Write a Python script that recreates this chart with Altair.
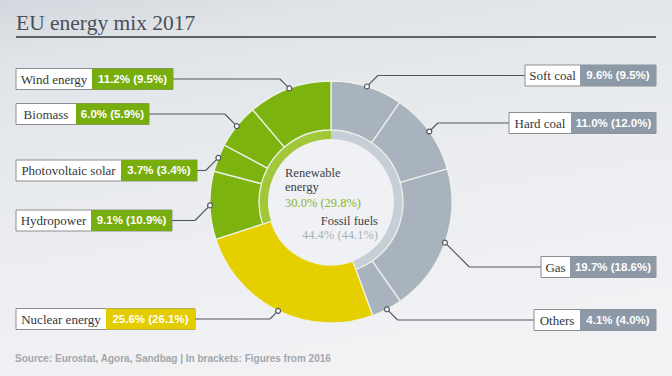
import math
import altair as alt
import pandas as pd

# ---------------- data ----------------
names = ["Soft coal", "Hard coal", "Gas", "Others", "Nuclear energy",
         "Hydropower", "Photovoltaic solar", "Biomass", "Wind energy"]
share_2017 = [9.6, 11.0, 19.7, 4.1, 25.6, 9.1, 3.7, 6.0, 11.2]
share_2016 = [9.5, 12.0, 18.6, 4.0, 26.1, 10.9, 3.4, 5.9, 9.5]
groups = ["Fossil fuels"] * 4 + ["Nuclear"] + ["Renewable energy"] * 4
group_names = ["Fossil fuels", "Nuclear", "Renewable energy"]
group_2017 = [44.4, 25.6, 30.0]
group_2016 = [44.1, 26.1, 29.8]
title = "EU energy mix 2017"
source = "Source:  Eurostat, Agora, Sandbag | In brackets: Figures from 2016"

# ---------------- layout / style ----------------
W, H = 672, 376
CX, CY = 331, 202
R_OUT, R_MID, R_IN = 121, 72, 63
label_y = [75.5, 123, 267, 320, 319, 220.5, 170.5, 114, 79]
name_w = [55, 62, 29, 46, 90, 75, 105, 60, 76]
val_w = [76, 85, 86, 76, 89, 81, 76, 73, 81]
label_side = ["right"] * 4 + ["left"] * 5
LEFT_X, RIGHT_X, BOX_H = 16, 656, 21

seg_colors = ["#a8b3be", "#e6cf00", "#7db30f"]
ring_colors = ["#c6ced6", "#e6cf00", "#a2c83a"]
box_colors = ["#8d99a6", "#e3cc00", "#78ad0e"]

SERIF = "Liberation Serif"
SANS = "Liberation Sans"

px = alt.Scale(domain=[0, W], range=[0, W])
py = alt.Scale(domain=[0, H], range=[0, H])
theta_scale = alt.Scale(domain=[0, 100], range=[0, 2 * math.pi])

# ---------------- tables ----------------
seg = pd.DataFrame({"name": names, "v": share_2017, "order": list(range(len(names))),
                    "group": groups})
grp = pd.DataFrame({"group": group_names, "v": group_2017, "order": [0, 1, 2]})

rows = []
cum = 0.0
for i, n in enumerate(names):
    v = share_2017[i]
    mid = cum + v / 2
    cum += v
    ang = mid / 100 * 2 * math.pi
    dx = CX + R_OUT * math.sin(ang)
    dy = CY - R_OUT * math.cos(ang)
    ly = label_y[i]
    if label_side[i] == "left":
        bx0 = LEFT_X
        bx1 = bx0 + name_w[i]
        bx2 = bx1 + val_w[i]
        lead = bx2
        bend = dx - abs(ly - dy)
    else:
        bx2 = RIGHT_X
        bx1 = bx2 - val_w[i]
        bx0 = bx1 - name_w[i]
        lead = bx0
        bend = dx + abs(ly - dy)
    rows.append(dict(name=n, group=groups[i],
                     val=f"{share_2017[i]:.1f}% ({share_2016[i]:.1f}%)",
                     ly=ly, yt=ly - BOX_H / 2, yb=ly + BOX_H / 2,
                     bx0=bx0, bx1=bx1, bx2=bx2,
                     nx=(bx0 + bx1) / 2, vx=(bx1 + bx2) / 2,
                     lead=lead, bend=bend, dx=dx, dy=dy))
lab = pd.DataFrame(rows)

one = pd.DataFrame({"k": [0]})

# ---------------- layers ----------------
bg = alt.Chart(one).mark_rect(
    color=alt.LinearGradient(
        gradient="linear", x1=0, y1=0, x2=0.3, y2=1,
        stops=[alt.GradientStop(offset=0, color="#d3d8de"),
               alt.GradientStop(offset=0.15, color="#e0e4e8"),
               alt.GradientStop(offset=0.55, color="#eaecef"),
               alt.GradientStop(offset=1, color="#f2f2f5")])
).encode(x=alt.value(0), x2=alt.value(W), y=alt.value(0), y2=alt.value(H))

title_rule = alt.Chart(one).mark_rule(color="#5c6167", strokeWidth=1.8).encode(
    x=alt.value(16), x2=alt.value(656), y=alt.value(37))
title_txt = alt.Chart(one).mark_text(
    text=title, align="left", baseline="alphabetic", font=SERIF, fontSize=21.5,
    color="#4a5056").encode(x=alt.value(16), y=alt.value(30))

disc = alt.Chart(one).mark_arc(radius=R_IN, theta=0, theta2=2 * math.pi,
                               color="#f0f1f4").encode(x=alt.value(CX), y=alt.value(CY))

grp_color = alt.Color("group:N", scale=alt.Scale(domain=group_names, range=ring_colors),
                      legend=None)
seg_color = alt.Color("group:N", scale=alt.Scale(domain=group_names, range=seg_colors),
                      legend=None)

ring = alt.Chart(grp).transform_stack(
    stack="v", groupby=[], as_=["t0", "t1"], sort=[alt.SortField("order")]
).transform_filter("datum.group != 'Nuclear'").mark_arc(
    radius=R_MID, radius2=R_IN).encode(
    theta=alt.Theta("t0:Q", scale=theta_scale, stack=False), theta2="t1:Q",
    color=grp_color, x=alt.value(CX), y=alt.value(CY))

seg_base = alt.Chart(seg).transform_stack(
    stack="v", groupby=[], as_=["t0", "t1"], sort=[alt.SortField("order")])
seg_enc = dict(theta=alt.Theta("t0:Q", scale=theta_scale, stack=False), theta2="t1:Q",
               color=seg_color, x=alt.value(CX), y=alt.value(CY))
outer = seg_base.transform_filter("datum.group != 'Nuclear'").mark_arc(
    radius=R_OUT, radius2=R_MID, stroke="#eef1ea", strokeWidth=1.3).encode(**seg_enc)
nuclear = seg_base.transform_filter("datum.group == 'Nuclear'").mark_arc(
    radius=R_OUT, radius2=R_IN, stroke="#eef1ea", strokeWidth=1.3).encode(**seg_enc)

LINE = "#50565c"
lead_h = alt.Chart(lab).mark_rule(color=LINE, strokeWidth=1.1).encode(
    x=alt.X("lead:Q", scale=px, axis=None), x2="bend:Q",
    y=alt.Y("ly:Q", scale=py, axis=None))
lead_d = alt.Chart(lab).mark_rule(color=LINE, strokeWidth=1.1).encode(
    x=alt.X("bend:Q", scale=px, axis=None), x2="dx:Q",
    y=alt.Y("ly:Q", scale=py, axis=None), y2="dy:Q")
dots = alt.Chart(lab).mark_point(shape="circle", size=24, filled=False, fill="#ffffff",
                                 stroke=LINE, strokeWidth=1.2, opacity=1).encode(
    x=alt.X("dx:Q", scale=px, axis=None), y=alt.Y("dy:Q", scale=py, axis=None))

box = alt.Chart(lab).mark_rect(fill="#ffffff", stroke="#8a8e92", strokeWidth=1).encode(
    x=alt.X("bx0:Q", scale=px, axis=None), x2="bx2:Q",
    y=alt.Y("yt:Q", scale=py, axis=None), y2="yb:Q")
vbox = alt.Chart(lab).mark_rect().encode(
    x=alt.X("bx1:Q", scale=px, axis=None), x2="bx2:Q",
    y=alt.Y("yt:Q", scale=py, axis=None), y2="yb:Q",
    color=alt.Color("group:N", scale=alt.Scale(domain=group_names, range=box_colors),
                    legend=None))
ntxt = alt.Chart(lab).mark_text(font=SERIF, fontSize=13, color="#33373b",
                                baseline="middle", align="center", dy=0.5).encode(
    x=alt.X("nx:Q", scale=px, axis=None), y=alt.Y("ly:Q", scale=py, axis=None),
    text="name:N")
vtxt = alt.Chart(lab).mark_text(font=SANS, fontSize=11.5, fontWeight="bold",
                                color="#ffffff", baseline="middle", align="center",
                                dy=0.5).encode(
    x=alt.X("vx:Q", scale=px, axis=None), y=alt.Y("ly:Q", scale=py, axis=None),
    text="val:N")

ren_i = group_names.index("Renewable energy")
fos_i = group_names.index("Fossil fuels")
ren_name = group_names[ren_i].split(" ")
ctr_left = pd.DataFrame({
    "t": [ren_name[0], ren_name[1],
          f"{group_2017[ren_i]:.1f}% ({group_2016[ren_i]:.1f}%)"],
    "x": [285, 285, 285], "y": [173, 187, 203], "c": ["dark", "dark", "ren"]})
ctr_right = pd.DataFrame({
    "t": [group_names[fos_i], f"{group_2017[fos_i]:.1f}% ({group_2016[fos_i]:.1f}%)"],
    "x": [378, 378], "y": [221, 235], "c": ["dark", "fos"]})
ctr_col = alt.Color("c:N", scale=alt.Scale(domain=["dark", "ren", "fos"],
                                           range=["#3b3f44", "#8fb322", "#aab2ba"]),
                    legend=None)
cl = alt.Chart(ctr_left).mark_text(font=SERIF, fontSize=12.5, align="left",
                                   baseline="middle").encode(
    x=alt.X("x:Q", scale=px, axis=None), y=alt.Y("y:Q", scale=py, axis=None),
    text="t:N", color=ctr_col)
cr = alt.Chart(ctr_right).mark_text(font=SERIF, fontSize=12.5, align="right",
                                    baseline="middle").encode(
    x=alt.X("x:Q", scale=px, axis=None), y=alt.Y("y:Q", scale=py, axis=None),
    text="t:N", color=ctr_col)

src = alt.Chart(one).mark_text(text=source, font=SANS, fontSize=10, fontWeight="bold",
                               color="#a2a6ab", align="left", baseline="middle").encode(
    x=alt.value(15), y=alt.value(359))

chart = alt.layer(
    bg, title_rule, title_txt, disc, ring, outer, nuclear,
    lead_h, lead_d, dots, box, vbox, ntxt, vtxt, cl, cr, src
).resolve_scale(color="independent").properties(
    width=W, height=H, autosize="none", padding=0
).configure_view(stroke=None)

chart.save("out.html", embed_options={"renderer": "svg", "actions": False})
